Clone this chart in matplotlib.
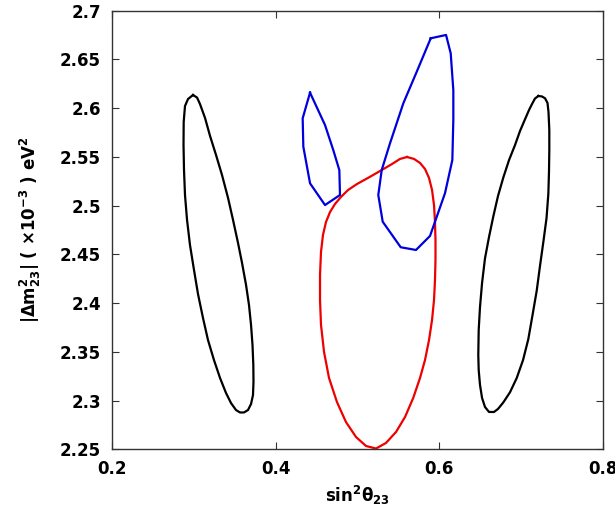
import matplotlib
matplotlib.use("Agg")
import matplotlib.pyplot as plt

plt.rcParams['font.family'] = ['DejaVu Sans']
plt.rcParams['font.weight'] = 'bold'
plt.rcParams['mathtext.fontset'] = 'dejavusans'
plt.rcParams['mathtext.default'] = 'bf'

# Left black contour
black_left_x = [0.2990, 0.3039, 0.3075, 0.3137, 0.3198, 0.3271, 0.3344, 0.3418, 0.3479, 0.3540,
                0.3589, 0.3638, 0.3674, 0.3699, 0.3717, 0.3727, 0.3729, 0.3723, 0.3699, 0.3662,
                0.3613, 0.3564, 0.3515, 0.3454, 0.3393, 0.3320, 0.3246, 0.3173, 0.3112, 0.3051,
                0.3002, 0.2953, 0.2917, 0.2892, 0.2880, 0.2874, 0.2876, 0.2892, 0.2929, 0.2990]
black_left_y = [2.6135, 2.6109, 2.6043, 2.5899, 2.5715, 2.5520, 2.5315, 2.5079, 2.4853, 2.4617,
                2.4412, 2.4186, 2.3981, 2.3776, 2.3570, 2.3365, 2.3191, 2.3057, 2.2965, 2.2903,
                2.2878, 2.2878, 2.2903, 2.2975, 2.3078, 2.3232, 2.3416, 2.3621, 2.3847, 2.4093,
                2.4340, 2.4596, 2.4853, 2.5109, 2.5365, 2.5622, 2.5858, 2.6022, 2.6094, 2.6135]

# Right black contour
black_right_x = [0.7210, 0.7255, 0.7292, 0.7322, 0.7334, 0.7344, 0.7344, 0.7340, 0.7332, 0.7310,
                 0.7271, 0.7230, 0.7190, 0.7139, 0.7087, 0.7023, 0.6946, 0.6864, 0.6782, 0.6717,
                 0.6668, 0.6607, 0.6558, 0.6522, 0.6497, 0.6481, 0.6476, 0.6481, 0.6497, 0.6522,
                 0.6558, 0.6607, 0.6660, 0.6717, 0.6782, 0.6852, 0.6925, 0.6986, 0.7047, 0.7096,
                 0.7133, 0.7169, 0.7210]
black_right_y = [2.6125, 2.6120, 2.6101, 2.6053, 2.5961, 2.5776, 2.5571, 2.5345, 2.5120, 2.4873,
                 2.4627, 2.4381, 2.4127, 2.3878, 2.3629, 2.3416, 2.3232, 2.3086, 2.2981, 2.2914,
                 2.2883, 2.2883, 2.2934, 2.3027, 2.3160, 2.3314, 2.3468, 2.3724, 2.3960, 2.4206,
                 2.4459, 2.4678, 2.4891, 2.5099, 2.5289, 2.5468, 2.5622, 2.5766, 2.5886, 2.5981,
                 2.6043, 2.6099, 2.6125]

# Red contour
red_x = [0.5605, 0.5691, 0.5764, 0.5825, 0.5874, 0.5911, 0.5935, 0.5947, 0.5953, 0.5953,
         0.5947, 0.5935, 0.5911, 0.5874, 0.5825, 0.5764, 0.5681, 0.5581, 0.5471, 0.5348,
         0.5226, 0.5104, 0.4982, 0.4859, 0.4749, 0.4652, 0.4591, 0.4554, 0.4542, 0.4542,
         0.4554, 0.4578, 0.4615, 0.4664, 0.4725, 0.4798, 0.4884, 0.4994, 0.5128, 0.5275,
         0.5422, 0.5519, 0.5605]
red_y = [2.5499, 2.5479, 2.5438, 2.5376, 2.5284, 2.5160, 2.5006, 2.4832, 2.4647, 2.4442,
         2.4237, 2.4032, 2.3827, 2.3621, 2.3416, 2.3232, 2.3027, 2.2832, 2.2678, 2.2565,
         2.2508, 2.2534, 2.2626, 2.2780, 2.2985, 2.3232, 2.3499, 2.3776, 2.4032, 2.4289,
         2.4525, 2.4699, 2.4832, 2.4934, 2.5017, 2.5089, 2.5160, 2.5222, 2.5284, 2.5355,
         2.5427, 2.5479, 2.5499]

# Blue contour (small island)
blue_small_x = [0.442, 0.4603, 0.4704, 0.4778, 0.4786, 0.4603, 0.442, 0.4338, 0.433, 0.442]
blue_small_y = [2.6159, 2.5827, 2.557, 2.5365, 2.5109, 2.5006, 2.5229, 2.5605, 2.5896, 2.6159]

# Blue contour (large island)
blue_large_x = [0.5895, 0.6082, 0.6139, 0.6171, 0.6171, 0.6159, 0.6069, 0.5926, 0.5886, 0.5715,
                0.5528, 0.5308, 0.5254, 0.5296, 0.5397, 0.556, 0.5724, 0.5895]
blue_large_y = [2.6717, 2.6751, 2.6563, 2.6186, 2.5879, 2.5468, 2.5127, 2.4784, 2.4689, 2.4545,
                2.4573, 2.4835, 2.5109, 2.5366, 2.5639, 2.605, 2.6374, 2.6717]

x_ticks = [0.2, 0.4, 0.6, 0.8]
x_tick_labels = ['0.2', '0.4', '0.6', '0.8']
y_ticks = [2.25, 2.3, 2.35, 2.4, 2.45, 2.5, 2.55, 2.6, 2.65, 2.7]
y_tick_labels = ['2.25', '2.3', '2.35', '2.4', '2.45', '2.5', '2.55', '2.6', '2.65', '2.7']

fig = plt.figure(figsize=(6.15, 5.27), dpi=100)
ax = fig.add_axes([112/615, 1 - 449.3/527, (603 - 112)/615, (449.3 - 10.7)/527])

lw = 1.6
ax.plot(black_left_x, black_left_y, color='black', lw=lw)
ax.plot(black_right_x, black_right_y, color='black', lw=lw)
ax.plot(red_x, red_y, color='#ee0000', lw=lw)
ax.plot(blue_small_x, blue_small_y, color='#0000dd', lw=lw)
ax.plot(blue_large_x, blue_large_y, color='#0000dd', lw=lw)

ax.set_xlim(0.2, 0.8)
ax.set_ylim(2.25, 2.7)
ax.set_xticks(x_ticks)
ax.set_xticklabels(x_tick_labels, fontsize=12, fontweight='bold')
ax.set_yticks(y_ticks)
ax.set_yticklabels(y_tick_labels, fontsize=12, fontweight='bold')
ax.tick_params(direction='in', length=5, width=0.8, top=True, right=True, pad=8, color='#333333')
for s in ax.spines.values():
    s.set_color('#333333')
    s.set_linewidth(1.0)

ax.set_xlabel('sin$^2$θ$_{23}$', fontsize=12, fontweight='bold', labelpad=4)
ax.set_ylabel('|Δm$^2_{23}$| ( ×10$^{-3}$ ) eV$^2$', fontsize=12, fontweight='bold', labelpad=12)

fig.savefig('out.png', dpi=100)
